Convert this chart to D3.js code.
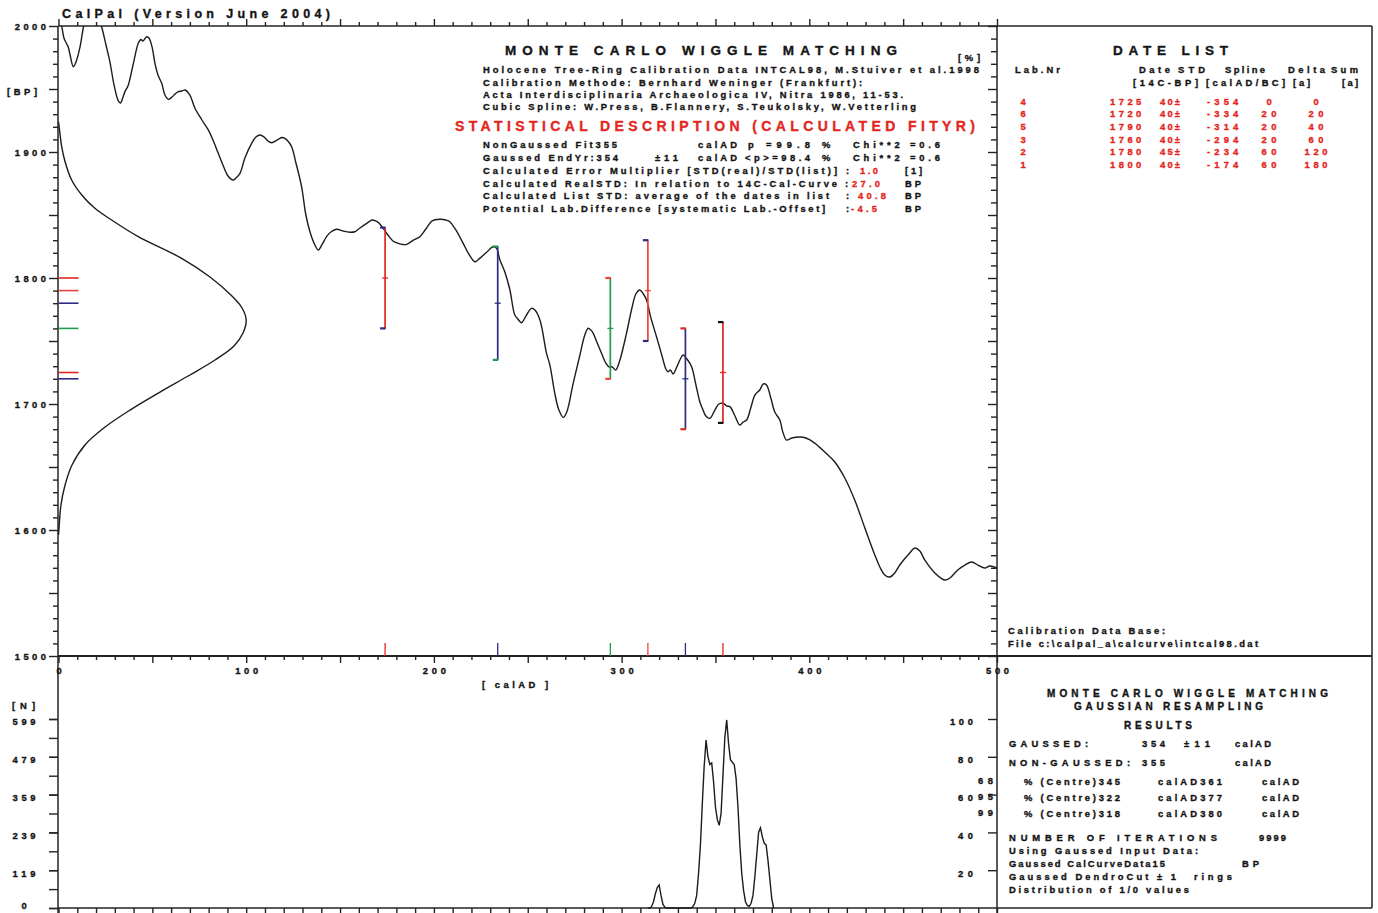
<!DOCTYPE html>
<html>
<head>
<meta charset="utf-8">
<script src="https://cdn.jsdelivr.net/npm/d3@7"></script>
<style>
  html, body { margin: 0; padding: 0; background: #fff; }
  svg { display: block; font-family: "Liberation Sans", Arial, sans-serif; font-weight: bold; }
  svg text { paint-order: stroke; stroke-linejoin: round; }
</style>
</head>
<body>
<svg id="chart" width="1378" height="913"></svg>
<script>
// ---------------------------------------------------------------------------
// Data
// ---------------------------------------------------------------------------

// INTCAL98 calibration curve segment: [calAD, 14C BP]
const calCurve = [
  [0,2008.7],[1.7,2000],[2.9,1990.5],[4.4,1985.7],[5.2,1983.3],[6.4,1975.4],[7.9,1967.7],[9.3,1971.4],
  [11.5,1983.6],[13.2,1998.4],[14.6,2006.3],[18.4,2011],[21.6,2006.3],[23.0,1999.4],[25.3,1984.9],
  [27.4,1971.4],[29.6,1953.2],[31.9,1940.5],[33.0,1938.9],[34.4,1943.7],[35.4,1947.9],[37.0,1952.4],
  [39.7,1969.0],[42.5,1986.3],[43.9,1989.3],[45.0,1988.1],[47.0,1991.5],[48.2,1990.5],[49.8,1983.6],
  [51.4,1970.4],[53.0,1961.1],[55.0,1954.5],[56.7,1945.2],[58.5,1941.8],[60.5,1943.7],[62.1,1946.0],
  [63.8,1947.9],[65.8,1948.4],[67.4,1949.2],[70.0,1945.2],[72.7,1934.7],[76.4,1925.4],[79.8,1917.5],
  [82.3,1909.5],[85.1,1899.0],[87.6,1889.7],[90.3,1881.0],[93.1,1877.8],[94.5,1879.4],[96.7,1883.1],
  [99.3,1895.2],[102.9,1906.9],[105.2,1911.9],[107.3,1913.5],[109.5,1911.9],[111.6,1908.7],[113.6,1907.4],
  [116.4,1909.5],[119.0,1911.5],[120.6,1910.9],[122.2,1908.7],[124.2,1904.2],[126.5,1891.3],[129.5,1872.5],
  [131.8,1850.0],[134.0,1836.5],[136.6,1826.2],[138.4,1822.2],[140.3,1826.2],[142.8,1832.8],[145.1,1836.5],
  [148.2,1838.7],[151.5,1837.3],[155.3,1836.3],[157.9,1836.7],[160.6,1839.7],[164.2,1843.4],[167.0,1846.0],
  [168.6,1845.5],[170.7,1843.7],[173.0,1839.4],[175.5,1834.1],[178.2,1829.4],[181.0,1827.5],[183.5,1826.6],
  [185.5,1826.7],[188.8,1829.8],[192.5,1832.8],[195.7,1838.9],[198.9,1845.2],[203.2,1846.6],[206.4,1846.0],
  [208.5,1844.7],[211.7,1838.1],[215.6,1827.5],[218.6,1819.0],[221.8,1812.9],[223.4,1814.3],[225.4,1816.9],
  [228.2,1820.6],[231.6,1824.8],[233.4,1823.6],[234.1,1820.6],[235.2,1814.3],[237.8,1804.8],[240.5,1790.5],
  [243.1,1770.6],[244.7,1767.5],[246.7,1764.5],[249.0,1769.8],[252.0,1775.9],[253.8,1774.6],[256.5,1766.7],
  [260.0,1740.2],[261.8,1730.9],[264.4,1708.5],[266.6,1695.2],[268.9,1689.4],[270.8,1693.7],[274.2,1716.4],
  [277.8,1738.9],[280.4,1754.8],[282.2,1760.1],[283.6,1758.7],[284.9,1756.1],[286.8,1749.2],[289.3,1740.2],
  [291.6,1732.5],[293.2,1729.4],[294.6,1729.6],[295.6,1728.6],[296.9,1727.0],[299.1,1734.9],[302.6,1756.1],
  [305.5,1776.2],[307.6,1787.3],[309.7,1790.5],[311.6,1787.3],[313.3,1782.5],[315.6,1768.3],[318.6,1753.4],
  [321.4,1738.9],[323.6,1727.8],[324.8,1725.6],[326.0,1727.0],[327.4,1723.8],[329.4,1729.4],[331.3,1735.7],
  [332.8,1738.9],[334.8,1735.7],[337.3,1729.6],[339.6,1715.1],[341.7,1701.6],[343.4,1695.2],[344.9,1690.5],
  [347.0,1688.6],[349.7,1695.2],[351.8,1700.0],[354.1,1700.6],[356.1,1698.4],[357.7,1697.9],[360.4,1690.5],
  [363.0,1683.3],[364.8,1685.7],[366.6,1687.3],[368.8,1696.8],[371.0,1707.1],[373.6,1711.1],[375.5,1715.9],
  [377.2,1715.1],[379.5,1704.8],[381.6,1693.7],[384.3,1687.3],[385.9,1677.8],[387.9,1671.4],[390.7,1673.0],
  [395.0,1673.8],[398.2,1673.0],[402.9,1669.0],[408.2,1661.9],[413.6,1654.0],[418.9,1641.3],[424.2,1623.8],
  [429.6,1601.6],[434.9,1580.2],[437.6,1570.6],[440.2,1564.3],[442.9,1562.7],[445.5,1565.9],[448.2,1572.2],
  [453.5,1581.7],[456.2,1585.7],[458.9,1583.3],[461.5,1576.2],[466.9,1565.9],[472.2,1560.3],[474.9,1561.9],
  [479.1,1568.3],[482.9,1572.2],[486.6,1574.6],[489.8,1572.2],[493.5,1569.8],[496.1,1571.4],[500,1569.8]
];

// Probability of the 14C ages: [14C BP, % of maximum]
const bpDensity = [
  [1924,0],[1920.6,0.3],[1904.2,1.7],[1892.3,3.5],[1877.8,7.0],[1865.9,12.4],[1855.3,19.4],[1846.0,28.3],
  [1832.8,42.5],[1815.6,65.6],[1800.8,80.7],[1785.7,92.4],[1776.2,97.8],[1766.7,100],[1756.3,98.3],
  [1746.0,93.5],[1734.9,83.4],[1723.0,70.0],[1709.5,54.1],[1695.2,38.1],[1681.7,24.8],[1667.5,14.1],
  [1651.6,7.2],[1635.7,3.5],[1619.8,1.3],[1600,0.2],[1596,0]
];

// Date list
const labNr     = [4, 6, 5, 3, 2, 1];
const dateBP    = [1725, 1720, 1790, 1760, 1780, 1800];
const dateSTD   = [40, 40, 40, 40, 45, 40];
const splineAD  = [-354, -334, -314, -294, -234, -174];
const deltaYrs  = [0, 20, 20, 20, 60, 60];
const sumYrs    = [0, 20, 40, 60, 120, 180];

// Wiggle-match resampling histogram: [calAD, N]
const histogram = [
  [314,0],[315,0],[316,5],[317,20],[318,45],[319,65],[320,73],[321,40],[322,12],[323,3],[324,0],[337,0],
  [338,5],[339,15],[340,40],[341,110],[342,200],[343,330],[344,450],[345,532],[346,480],[347,455],[348,460],
  [349,400],[350,320],[351,280],[352,262],[353,300],[354,420],[355,540],[356,596],[357,520],[358,470],
  [359,462],[360,455],[361,410],[362,320],[363,200],[364,110],[365,55],[366,20],[367,8],[368,5],[369,15],
  [370,40],[371,100],[372,170],[373,240],[374,254],[375,225],[376,205],[377,200],[378,150],[379,90],
  [380,30],[381,0]
];
const nTickValues = [0, 119.8, 239.6, 359.4, 479.2, 599];
const nTickLabels = ["0", "119", "239", "359", "479", "599"];
const pctTickValues = [20, 40, 60, 80, 100];

// Results
const confLevels = [68, 95, 99];
const rangeFrom  = [345, 322, 318];
const rangeTo    = [361, 377, 380];
const gaussedYr = 354, gaussedSD = 11, nonGaussedYr = 355;
const pNonGaussed = 99.8, pGaussed = 98.4, chi2NonGaussed = 0.6, chi2Gaussed = 0.6;
const errorMultiplier = 1.0, realSTD = 27.0, listSTD = 40.8, labOffset = -4.5;
const iterations = 9999, calCurveSD = 15, dendroCut = 1;

// ---------------------------------------------------------------------------
// Styles
// ---------------------------------------------------------------------------
const INK = "#232323";
const TXT = "#141414";
const RED = "#e4261e";
const NAVY = "#2b2b84";
const GREEN = "#1f9d4e";
const labColor = { 1: RED, 2: NAVY, 3: GREEN, 4: RED, 5: "#ee4238", 6: NAVY };
const BODY = 9.4;

const svg = d3.select("#chart");

// ---------------------------------------------------------------------------
// Scales
// ---------------------------------------------------------------------------
const x  = d3.scaleLinear().domain([0, 500]).range([58.5, 997]);
const y  = d3.scaleLinear().domain([1500, 2000]).range([656, 26]);
const yN = d3.scaleLinear().domain([0, 599]).range([908, 719]);
const yP = d3.scaleLinear().domain([0, 100]).range([908, 719]);

// ---------------------------------------------------------------------------
// Helpers
// ---------------------------------------------------------------------------
function span(s, x0, x1, yc, o = {}) {
  const size = o.size || BODY;
  const anchor = o.anchor || "start";
  const fill = o.fill || TXT;
  const px = anchor === "middle" ? (x0 + x1) / 2 : anchor === "end" ? x1 : x0;
  const t = svg.append("text")
    .attr("x", px).attr("y", yc + size * 0.36)
    .attr("font-size", size)
    .attr("fill", fill)
    .attr("stroke", fill).attr("stroke-width", 0.35)
    .attr("text-anchor", anchor)
    .text(s);
  if (s.length > 1 && x1 > x0) t.attr("textLength", x1 - x0).attr("lengthAdjust", "spacing");
  return t;
}
function rule(x1, y1, x2, y2, w = 1.5, c = INK) {
  svg.append("line").attr("x1", x1).attr("y1", y1).attr("x2", x2).attr("y2", y2)
    .attr("stroke", c).attr("stroke-width", w);
}
const digitsW = s => String(s).length * 8.2 - 1.5;
function styleAxis(g) {
  g.attr("font-family", null).attr("font-size", null);
  g.select(".domain").remove();
  g.selectAll(".tick line").attr("stroke", INK).attr("stroke-width", 1.4);
  g.selectAll(".tick text").attr("fill", TXT).attr("font-size", BODY)
    .attr("stroke", TXT).attr("stroke-width", 0.35)
    .attr("lengthAdjust", "spacing")
    .attr("textLength", function () { const s = this.textContent; return s.length > 1 ? digitsW(s) : null; });
}

// ---------------------------------------------------------------------------
// Frame
// ---------------------------------------------------------------------------
rule(58, 26, 1372, 26);
rule(58, 656, 1372, 656, 2);
rule(58, 26, 58, 913);
rule(997, 26, 997, 913);
rule(1372, 26, 1372, 908);
rule(997, 908, 1372, 908);
rule(58, 908, 997, 908);

// ---------------------------------------------------------------------------
// Main panel axes
// ---------------------------------------------------------------------------
const adTicks = d3.range(0, 501, 10);
const bpTicks = d3.range(1500, 2001, 10);

svg.append("g").attr("transform", "translate(0,26)")
  .call(d3.axisTop(x).tickValues(adTicks).tickSize(4).tickFormat(""))
  .call(styleAxis)
  .call(g => g.selectAll(".tick line").attr("y2", d => d % 50 === 0 ? -7 : -4));

svg.append("g").attr("transform", "translate(0,656)")
  .call(d3.axisBottom(x).tickValues(adTicks).tickSize(4).tickFormat(d => d % 100 === 0 ? d : ""))
  .call(styleAxis)
  .call(g => g.selectAll(".tick line").attr("y2", d => d % 50 === 0 ? 7 : 4))
  .call(g => g.selectAll(".tick text").attr("y", 18).attr("dy", null));

svg.append("g").attr("transform", "translate(58,0)")
  .call(d3.axisLeft(y).tickValues(bpTicks).tickSize(5).tickFormat(d => d % 100 === 0 ? d : ""))
  .call(styleAxis)
  .call(g => g.selectAll(".tick line").attr("x2", d => d % 50 === 0 ? -9 : -5))
  .call(g => g.selectAll(".tick text").attr("x", -12));

svg.append("g").attr("transform", "translate(997,0)")
  .call(d3.axisLeft(y).tickValues(bpTicks).tickSize(6).tickFormat(""))
  .call(styleAxis)
  .call(g => g.selectAll(".tick line").attr("x2", d => d % 50 === 0 ? -9 : -6));

span("[BP]", 7, 37, 92);
span("[ calAD ]", 482, 548, 685);

// ---------------------------------------------------------------------------
// Calibration curve and 14C probability
// ---------------------------------------------------------------------------
svg.append("clipPath").attr("id", "plotClip")
  .append("rect").attr("x", 58).attr("y", 26).attr("width", 939).attr("height", 630);

const plot = svg.append("g").attr("clip-path", "url(#plotClip)");

plot.append("path")
  .datum(calCurve)
  .attr("fill", "none").attr("stroke", "#1c1c1c").attr("stroke-width", 1.4)
  .attr("d", d3.line().x(d => x(d[0])).y(d => y(d[1])).curve(d3.curveCatmullRom.alpha(0.5)));

plot.append("path")
  .datum(bpDensity)
  .attr("fill", "none").attr("stroke", "#1c1c1c").attr("stroke-width", 1.4)
  .attr("d", d3.line().x(d => x(d[1])).y(d => y(d[0])).curve(d3.curveCatmullRom.alpha(0.5)));

// ---------------------------------------------------------------------------
// Dates as error bars on their wiggle-matched positions
// ---------------------------------------------------------------------------
const dates = labNr.map((lab, i) => ({
  lab, bp: dateBP[i], sd: dateSTD[i], ad: -splineAD[i], color: labColor[lab]
})).sort((a, b) => a.ad - b.ad);
dates.forEach((d, i) => { d.capColor = i < dates.length - 1 ? dates[i + 1].color : "#111"; });

const marks = svg.append("g");
dates.forEach(d => {
  const cx = x(d.ad);
  // marker on the BP axis
  marks.append("line").attr("x1", x(0)).attr("x2", x(0) + 20)
    .attr("y1", y(d.bp)).attr("y2", y(d.bp)).attr("stroke", d.color).attr("stroke-width", 1.6);
  // marker on the calAD axis
  marks.append("line").attr("x1", cx).attr("x2", cx)
    .attr("y1", y(1500) - 13).attr("y2", y(1500)).attr("stroke", d.color).attr("stroke-width", 1.3);
  // error bar
  marks.append("line").attr("x1", cx).attr("x2", cx)
    .attr("y1", y(d.bp + d.sd)).attr("y2", y(d.bp - d.sd))
    .attr("stroke", d.color).attr("stroke-width", 1.7);
  [d.bp + d.sd, d.bp - d.sd].forEach(v => {
    marks.append("line").attr("x1", cx - 5).attr("x2", cx + 0.5)
      .attr("y1", y(v)).attr("y2", y(v)).attr("stroke", d.capColor).attr("stroke-width", 2.2);
  });
  marks.append("line").attr("x1", cx - 3).attr("x2", cx + 3)
    .attr("y1", y(d.bp)).attr("y2", y(d.bp)).attr("stroke", d.color).attr("stroke-width", 1.3);
});

// ---------------------------------------------------------------------------
// Header and description texts
// ---------------------------------------------------------------------------
span("CalPal (Version June 2004)", 62, 330, 13, { size: 12.5 });

span("MONTE CARLO WIGGLE MATCHING", 505, 897, 50, { size: 13.5 });
span("[%]", 958, 980, 58);
span("Holocene Tree-Ring Calibration Data INTCAL98, M.Stuiver et al.1998", 483, 979, 70);
span("Calibration Methode:  Bernhard Weninger (Frankfurt):", 483, 862, 83);
span("Acta Interdisciplinaria Archaeologica IV, Nitra 1986, 11-53.", 483, 903, 95);
span("Cubic Spline: W.Press, B.Flannery, S.Teukolsky, W.Vetterling", 483, 916, 107);
span("STATISTICAL DESCRIPTION (CALCULATED FITYR)", 455, 975, 126, { size: 14, fill: RED });

span("NonGaussed Fit" + nonGaussedYr, 483, 617, 145);
span("calAD", 698, 737, 145);
span("p", 748, 756, 145);
span("=" + pNonGaussed.toFixed(1), 766, 810, 145);
span("%", 822, 832, 145);
span("Chi**2 =" + chi2NonGaussed.toFixed(1), 853, 940, 145);

span("Gaussed EndYr:" + gaussedYr, 483, 618, 158);
span("±" + gaussedSD, 655, 678, 158);
span("calAD", 698, 737, 158);
span("<p>=" + pGaussed.toFixed(1), 745, 810, 158);
span("%", 822, 832, 158);
span("Chi**2 =" + chi2Gaussed.toFixed(1), 853, 940, 158);

span("Calculated Error Multiplier [STD(real)/STD(list)]", 483, 837, 171);
span(":", 846, 850, 171);
span(errorMultiplier.toFixed(1), 860, 878, 171, { fill: RED });
span("[1]", 905, 922, 171);

span("Calculated RealSTD: In relation to 14C-Cal-Curve", 483, 837, 184);
span(":", 845, 849, 184);
span(realSTD.toFixed(1), 852, 880, 184, { fill: RED });
span("BP", 905, 921, 184);

span("Calculated List STD: average of the dates in list", 483, 829, 196);
span(":", 846, 850, 196);
span(listSTD.toFixed(1), 858, 886, 196, { fill: RED });
span("BP", 905, 921, 196);

span("Potential Lab.Difference [systematic Lab.-Offset]", 483, 825, 209);
span(":", 846, 850, 209);
span(labOffset.toFixed(1), 851, 877, 209, { fill: RED });
span("BP", 905, 921, 209);

// ---------------------------------------------------------------------------
// Date list panel
// ---------------------------------------------------------------------------
span("DATE LIST", 1113, 1228, 50, { size: 13.5 });
span("Lab.Nr", 1015, 1060, 70);
span("Date", 1139, 1170, 70);
span("STD", 1178, 1205, 70);
span("Spline", 1225, 1265, 70);
span("Delta", 1288, 1325, 70);
span("Sum", 1331, 1358, 70);
span("[14C-BP]", 1133, 1198, 83);
span("[calAD/BC]", 1206, 1285, 83);
span("[a]", 1293, 1310, 83);
span("[a]", 1342, 1358, 83);

labNr.forEach((lab, i) => {
  const yc = 101.5 + i * 12.6;
  const o = { fill: RED };
  span(String(lab), 1023, 1023, yc, { fill: RED, anchor: "middle" });
  span(String(dateBP[i]), 1110, 1110 + digitsW(dateBP[i]), yc, o);
  span(dateSTD[i] + "±", 1160, 1180, yc, o);
  span(String(splineAD[i]), 1207, 1207 + digitsW(splineAD[i]), yc, o);
  const dw = digitsW(deltaYrs[i]), sw = digitsW(sumYrs[i]);
  span(String(deltaYrs[i]), 1269 - dw / 2, 1269 + dw / 2, yc, { fill: RED, anchor: "middle" });
  span(String(sumYrs[i]), 1316 - sw / 2, 1316 + sw / 2, yc, { fill: RED, anchor: "middle" });
});

span("Calibration Data Base:", 1008, 1165, 631);
span("File c:\\calpal_a\\calcurve\\intcal98.dat", 1008, 1258, 644);

// ---------------------------------------------------------------------------
// Histogram panel
// ---------------------------------------------------------------------------
svg.append("g").attr("transform", "translate(58,0)")
  .call(d3.axisLeft(yN).tickValues(d3.range(0, 600, 59.9)).tickSize(9).tickFormat(""))
  .call(styleAxis);

svg.append("g").attr("transform", "translate(58,0)")
  .call(d3.axisLeft(yN).tickValues(nTickValues).tickSize(9)
    .tickFormat((d, i) => nTickLabels[i]))
  .call(styleAxis)
  .call(g => g.selectAll(".tick text").attr("x", -34).attr("text-anchor", "middle")
    .attr("dy", d => d === 0 ? "0.05em" : "0.62em"));

svg.append("g").attr("transform", "translate(997,0)")
  .call(d3.axisLeft(yP).tickValues(pctTickValues).tickSize(9))
  .call(styleAxis)
  .call(g => g.selectAll(".tick text").attr("x", -24).attr("dy", "0.62em"));

svg.append("g").attr("transform", "translate(0,908)")
  .call(d3.axisBottom(x).tickValues(adTicks).tickSize(5).tickFormat(""))
  .call(styleAxis);

span("[N]", 12, 35, 706);

svg.append("path")
  .datum(histogram)
  .attr("fill", "none").attr("stroke", "#1c1c1c").attr("stroke-width", 1.4)
  .attr("d", d3.line().x(d => x(d[0])).y(d => yN(d[1])));

// ---------------------------------------------------------------------------
// Results panel
// ---------------------------------------------------------------------------
span("MONTE CARLO WIGGLE MATCHING", 1047, 1328, 693, { size: 10 });
span("GAUSSIAN RESAMPLING", 1074, 1263, 706, { size: 10 });
span("RESULTS", 1124, 1192, 725, { size: 10 });

span("GAUSSED:", 1009, 1088, 744);
span(String(gaussedYr), 1142, 1165, 744);
span("±" + gaussedSD, 1184, 1210, 744);
span("calAD", 1235, 1271, 744);

span("NON-GAUSSED:", 1009, 1130, 763);
span(String(nonGaussedYr), 1142, 1165, 763);
span("calAD", 1235, 1271, 763);

confLevels.forEach((lvl, i) => {
  const yc = 782 + i * 16;
  span(String(lvl), 978, 993, yc - 1);
  span("% (Centre)" + rangeFrom[i], 1024, 1120, yc);
  span("calAD" + rangeTo[i], 1158, 1222, yc);
  span("calAD", 1262, 1299, yc);
});

span("NUMBER OF ITERATIONS", 1009, 1217, 838);
span(String(iterations), 1259, 1286, 838);
span("Using Gaussed Input Data:", 1009, 1198, 851);
span("Gaussed CalCurveData" + calCurveSD, 1009, 1165, 864);
span("BP", 1242, 1259, 864);
span("Gaussed DendroCut ±  " + dendroCut, 1009, 1176, 877);
span("rings", 1194, 1232, 877);
span("Distribution of 1/0 values", 1009, 1189, 890);
</script>
</body>
</html>
